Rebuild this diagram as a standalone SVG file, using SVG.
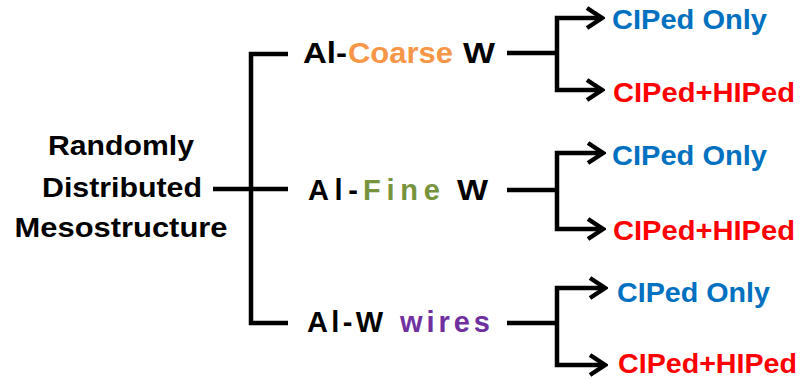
<svg xmlns="http://www.w3.org/2000/svg" width="806" height="379" viewBox="0 0 806 379">
<style>
  text { font-family: "Liberation Sans", Arial, sans-serif; font-weight: bold; }
  .root { font-size: 28px; fill: #000; }
  .mid { font-size: 29px; fill: #000; }
  .leaf { font-size: 28px; }
  .blue { fill: #0070C0; }
  .red { fill: #FF0000; }
  .orange { fill: #F79646; }
  .green { fill: #77933C; }
  .purple { fill: #7030A0; }
  .ln { fill: none; stroke: #000; stroke-width: 4.5; stroke-linejoin: miter; stroke-linecap: butt; }
  .arr { marker-end: url(#chev); }
</style>
<defs>
  <marker id="chev" viewBox="0 0 20 26" refX="17" refY="13" markerWidth="20" markerHeight="26" markerUnits="userSpaceOnUse" orient="auto">
    <path d="M2,3 L17,13 L2,23" fill="none" stroke="#000" stroke-width="4.5" stroke-linejoin="miter"/>
  </marker>
</defs>
<rect width="806" height="379" fill="#fff"/>

<g id="connectors">
  <path class="ln" d="M213,189 H288"/>
  <path class="ln" d="M288,54 H251 V323 H288"/>
  <path class="ln" d="M507,53 H557"/>
  <path class="ln arr" d="M557,53 V18 H602"/>
  <path class="ln arr" d="M557,53 V90 H602"/>
  <path class="ln" d="M507,190 H557"/>
  <path class="ln arr" d="M557,190 V153 H603"/>
  <path class="ln arr" d="M557,190 V229 H603"/>
  <path class="ln" d="M507,323 H557"/>
  <path class="ln arr" d="M557,323 V288 H605"/>
  <path class="ln arr" d="M557,323 V365 H605"/>
</g>

<g id="root">
  <text class="root" x="121" y="155" text-anchor="middle" textLength="146" lengthAdjust="spacingAndGlyphs">Randomly</text>
  <text class="root" x="122" y="197" text-anchor="middle" textLength="160" lengthAdjust="spacingAndGlyphs">Distributed</text>
  <text class="root" x="121" y="237" text-anchor="middle" textLength="213" lengthAdjust="spacingAndGlyphs">Mesostructure</text>
</g>

<g id="al-coarse-w">
  <text class="mid" y="63"><tspan x="303" textLength="44" lengthAdjust="spacingAndGlyphs">Al-</tspan><tspan class="orange" x="348" textLength="105" lengthAdjust="spacingAndGlyphs">Coarse</tspan><tspan x="463" textLength="32" lengthAdjust="spacingAndGlyphs">W</tspan></text>
</g>

<g id="al-fine-w">
  <text class="mid" y="200"><tspan x="308" textLength="50" lengthAdjust="spacing">Al-</tspan><tspan class="green" x="363" textLength="77" lengthAdjust="spacing">Fine</tspan><tspan x="457" textLength="31" lengthAdjust="spacingAndGlyphs">W</tspan></text>
</g>

<g id="al-w-wires">
  <text class="mid" y="332"><tspan x="307" textLength="76" lengthAdjust="spacing">Al-W</tspan><tspan class="purple" x="400" textLength="90" lengthAdjust="spacing">wires</tspan></text>
</g>

<g id="coarse-ciped-only">
  <text class="leaf blue" x="612" y="29" textLength="155" lengthAdjust="spacingAndGlyphs">CIPed Only</text>
</g>
<g id="coarse-ciped-hiped">
  <text class="leaf red" x="613" y="102" textLength="182" lengthAdjust="spacingAndGlyphs">CIPed+HIPed</text>
</g>
<g id="fine-ciped-only">
  <text class="leaf blue" x="612" y="165" textLength="155" lengthAdjust="spacingAndGlyphs">CIPed Only</text>
</g>
<g id="fine-ciped-hiped">
  <text class="leaf red" x="613" y="240" textLength="182" lengthAdjust="spacingAndGlyphs">CIPed+HIPed</text>
</g>
<g id="wires-ciped-only">
  <text class="leaf blue" x="617" y="302" textLength="153" lengthAdjust="spacingAndGlyphs">CIPed Only</text>
</g>
<g id="wires-ciped-hiped">
  <text class="leaf red" x="618" y="373" textLength="179" lengthAdjust="spacingAndGlyphs">CIPed+HIPed</text>
</g>
</svg>
